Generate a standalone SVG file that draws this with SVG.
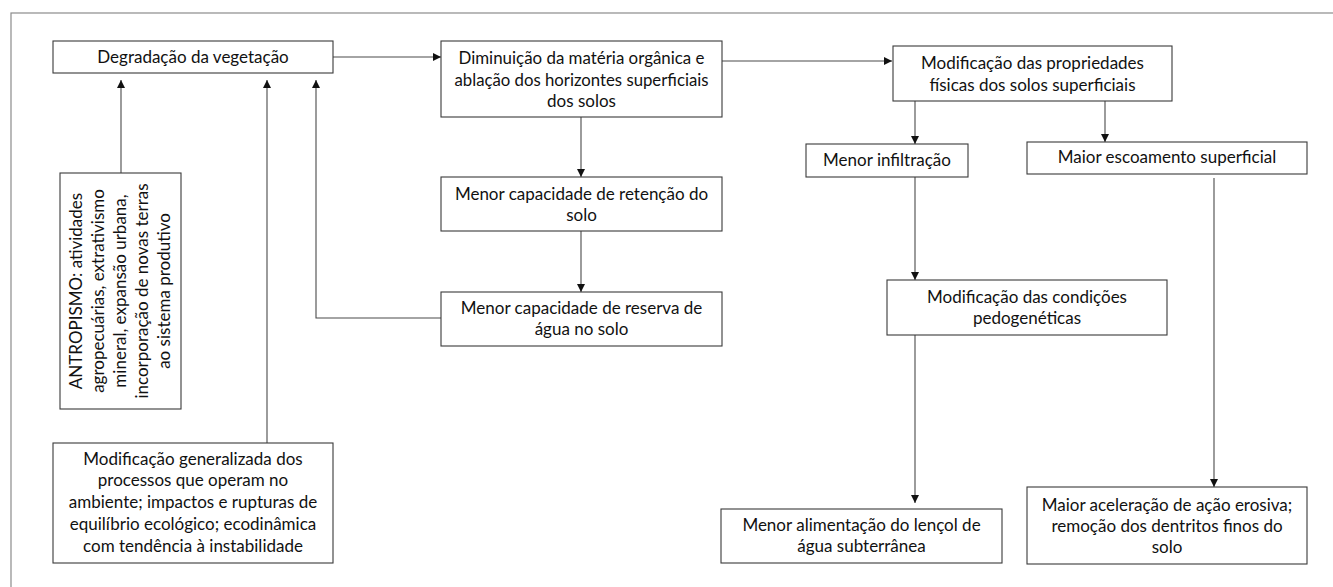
<svg xmlns="http://www.w3.org/2000/svg" width="1333" height="587" viewBox="0 0 1333 587">
  <style>
    .frame { fill: none; stroke: #8c8c8c; stroke-width: 1.2; }
    .box { fill: #ffffff; stroke: #3a3a3a; stroke-width: 1.1; }
    .lbl { font-family: Lato, "Liberation Sans", sans-serif; font-size: 17px; fill: #111111; text-anchor: middle; }
    .wire { fill: none; stroke: #4a4a4a; stroke-width: 1.1; }
    .arrow { marker-end: url(#head); }
  </style>
  <defs>
    <marker id="head" markerUnits="userSpaceOnUse" markerWidth="9" markerHeight="9" refX="8" refY="4" orient="auto">
      <path d="M0,0 L8,4 L0,8 z" fill="#111111"/>
    </marker>
  </defs>

  <rect width="1333" height="587" fill="#ffffff"/>
  <!-- outer frame (right and bottom edges fall outside the canvas) -->
  <rect class="frame" x="11" y="13" width="1340" height="600"/>

  <!-- connectors -->
  <g id="connectors">
    <line class="wire arrow" x1="333" y1="57" x2="441" y2="57"/>
    <line class="wire arrow" x1="722" y1="61" x2="892" y2="61"/>
    <line class="wire arrow" x1="581" y1="117" x2="581" y2="177"/>
    <line class="wire arrow" x1="581" y1="231" x2="581" y2="292"/>
    <line class="wire arrow" x1="915" y1="101" x2="915" y2="144"/>
    <line class="wire arrow" x1="1105" y1="101" x2="1105" y2="142"/>
    <line class="wire arrow" x1="915" y1="177" x2="915" y2="280"/>
    <line class="wire arrow" x1="915" y1="335" x2="915" y2="503"/>
    <line class="wire arrow" x1="1214" y1="178" x2="1214" y2="487"/>
    <line class="wire arrow" x1="121" y1="173" x2="121" y2="80"/>
    <line class="wire arrow" x1="267" y1="443" x2="267" y2="80"/>
    <polyline class="wire arrow" points="441,318 316,318 316,80"/>
  </g>

  <g id="degradacao">
    <rect class="box" x="53" y="41" width="280" height="32"/>
    <text class="lbl" x="193" y="63">Degradação da vegetação</text>
  </g>

  <g id="materia-organica">
    <rect class="box" x="441" y="41" width="281" height="76"/>
    <text class="lbl" x="581.5" y="64" textLength="246" lengthAdjust="spacingAndGlyphs">Diminuição da matéria orgânica e</text>
    <text class="lbl" x="581.5" y="86" textLength="254" lengthAdjust="spacingAndGlyphs">ablação dos horizontes superficiais</text>
    <text class="lbl" x="581.5" y="107">dos solos</text>
  </g>

  <g id="propriedades-fisicas">
    <rect class="box" x="893" y="46" width="279" height="55"/>
    <text class="lbl" x="1032.5" y="69">Modificação das propriedades</text>
    <text class="lbl" x="1032.5" y="91">físicas dos solos superficiais</text>
  </g>

  <g id="infiltracao">
    <rect class="box" x="806" y="144" width="162" height="33"/>
    <text class="lbl" x="887" y="166">Menor infiltração</text>
  </g>

  <g id="escoamento">
    <rect class="box" x="1027" y="142" width="280" height="32"/>
    <text class="lbl" x="1167" y="163">Maior escoamento superficial</text>
  </g>

  <g id="retencao">
    <rect class="box" x="441" y="177" width="281" height="54"/>
    <text class="lbl" x="581.5" y="200">Menor capacidade de retenção do</text>
    <text class="lbl" x="581.5" y="221">solo</text>
  </g>

  <g id="reserva-agua">
    <rect class="box" x="441" y="292" width="281" height="54"/>
    <text class="lbl" x="581.5" y="314">Menor capacidade de reserva de</text>
    <text class="lbl" x="581.5" y="335">água no solo</text>
  </g>

  <g id="condicoes-pedogeneticas">
    <rect class="box" x="887" y="280" width="280" height="55"/>
    <text class="lbl" x="1027" y="303">Modificação das condições</text>
    <text class="lbl" x="1027" y="324">pedogenéticas</text>
  </g>

  <g id="lencol-agua">
    <rect class="box" x="721" y="509" width="281" height="54"/>
    <text class="lbl" x="861.5" y="531">Menor alimentação do lençol de</text>
    <text class="lbl" x="861.5" y="552">água subterrânea</text>
  </g>

  <g id="acao-erosiva">
    <rect class="box" x="1027" y="487" width="280" height="77"/>
    <text class="lbl" x="1167" y="511">Maior aceleração de ação erosiva;</text>
    <text class="lbl" x="1167" y="532">remoção dos dentritos finos do</text>
    <text class="lbl" x="1167" y="553">solo</text>
  </g>

  <g id="antropismo">
    <rect class="box" x="60" y="173" width="121" height="236"/>
    <g transform="translate(0,291) rotate(-90)">
      <text class="lbl" x="0" y="82">ANTROPISMO: atividades</text>
      <text class="lbl" x="0" y="104">agropecuárias, extrativismo</text>
      <text class="lbl" x="0" y="126">mineral, expansão urbana,</text>
      <text class="lbl" x="0" y="148">incorporação de novas terras</text>
      <text class="lbl" x="0" y="170">ao sistema produtivo</text>
    </g>
  </g>

  <g id="modificacao-generalizada">
    <rect class="box" x="53" y="443" width="280" height="120"/>
    <text class="lbl" x="193" y="465">Modificação generalizada dos</text>
    <text class="lbl" x="193" y="486">processos que operam no</text>
    <text class="lbl" x="193" y="508">ambiente; impactos e rupturas de</text>
    <text class="lbl" x="193" y="530">equilíbrio ecológico; ecodinâmica</text>
    <text class="lbl" x="193" y="552">com tendência à instabilidade</text>
  </g>
</svg>
